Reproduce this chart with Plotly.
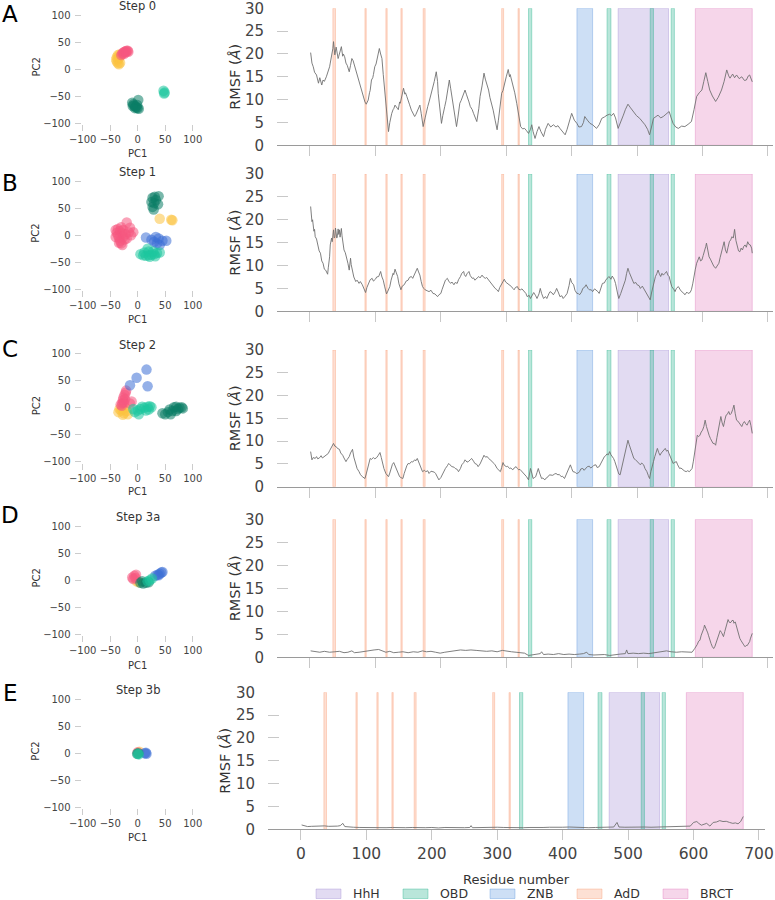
import plotly.graph_objects as go

FONT = "DejaVu Sans"
W, H = 775, 900

# ---------------- data ----------------
step_titles = ["Step 0", "Step 1", "Step 2", "Step 3a", "Step 3b"]
panel_letters = ["A", "B", "C", "D", "E"]
pc_ticks = [-100, -50, 0, 50, 100]
rmsf_ticks = [0, 5, 10, 15, 20, 25, 30]
residue_ticks = [0, 100, 200, 300, 400, 500, 600, 700]

# domain spans (residue start, residue end)
domain_names = ["HhH", "OBD", "ZNB", "AdD", "BRCT"]
HhH_spans = [(471, 548)]
OBD_spans = [(334, 339), (454, 460), (520, 525), (552, 557)]
ZNB_spans = [(408, 432)]
AdD_spans = [(35, 39), (84, 86), (116, 118), (139, 141), (173, 176), (293, 296), (318, 320)]
BRCT_spans = [(589, 676)]

# PCA projections per step (PC1, PC2), by cluster colour
s0_pink = [(-30, 26), (-28, 29), (-26, 31), (-24, 32), (-22, 33), (-20, 34), (-18, 34), (-17, 32), (-25, 28), (-21, 31)]
s0_yellow = [(-33, 27), (-36, 26), (-38, 22), (-39, 18), (-38, 14), (-36, 11), (-34, 9), (-32, 12), (-35, 19), (-33, 22)]
s0_blue = []
s0_dark = [(-10, -62), (-8, -65), (-6, -67), (-4, -69), (-2, -71), (0, -72), (2, -73), (-9, -68), (-5, -72), (-1, -66), (1, -57)]
s0_teal = [(47, -40), (48, -45), (49, -43)]

s1_pink = [(-40, 10), (-38, 5), (-36, 0), (-34, -5), (-32, -10), (-30, -15), (-28, -18), (-36, 12), (-32, 8), (-28, 4),
           (-26, -2), (-24, -8), (-40, -3), (-30, 15), (-26, 10), (-22, 2), (-20, -6), (-34, -14), (-20, 24), (-14, 14),
           (-8, 6), (-16, 6), (-12, 0)]
s1_yellow = [(40, 31), (61, 29), (63, 28)]
s1_blue = [(15, -4), (25, -8), (33, -3), (38, -6), (45, -10), (52, -10), (35, -15), (40, -18), (30, -12)]
s1_dark = [(27, 70), (31, 72), (38, 73), (25, 62), (30, 60), (37, 58), (27, 53), (29, 48), (33, 66)]
s1_teal = [(5, -35), (10, -37), (15, -38), (20, -37), (25, -36), (30, -35), (35, -33), (40, -32), (20, -30), (28, -30),
           (12, -32), (22, -40), (32, -39), (18, -25)]

s2_pink = [(-29, 4), (-28, 9), (-27, 14), (-26, 19), (-24, 24), (-22, 28), (-21, 32), (-25, 10), (-23, 16), (-31, 6),
           (-11, 12), (-14, 8)]
s2_yellow = [(-35, -8), (-30, -5), (-25, -10), (-20, -6), (-28, -2), (-22, 0), (-33, -2), (-18, -12), (-27, -13)]
s2_blue = [(-14, 42), (-2, 56), (16, 71), (18, 40)]
s2_dark = [(45, -10), (50, -12), (55, -8), (58, -3), (63, -6), (66, 1), (70, 2), (73, -2), (76, 0), (80, 1), (82, -1),
           (70, -6), (60, -12)]
s2_teal = [(-5, -8), (0, -5), (5, -2), (8, 2), (12, 0), (18, 2), (22, 3), (25, 1), (2, -12), (-8, -2), (15, -5), (20, -3)]

s3a_pink = [(-10, 5), (-6, 8), (-3, 10), (-8, 2), (-4, 4)]
s3a_yellow = [(-2, -2), (2, -4)]
s3a_blue = [(32, 8), (36, 10), (40, 12), (43, 14), (45, 15), (38, 9)]
s3a_dark = [(5, -5), (10, -6), (15, -5), (20, -4), (8, -2)]
s3a_teal = [(22, 0), (26, 3), (18, -2)]

s3b_pink = [(0, 2)]
s3b_yellow = [(3, 3)]
s3b_blue = [(13, 0), (15, 1), (16, -1)]
s3b_dark = [(-1, -1), (1, 0)]
s3b_teal = [(2, -2), (0, -1)]

# RMSF (Å) per residue, per step: (residue, rmsf)
rmsf_step0 = [(1,20.3),(3,18.0),(5,17.2),(7,16.0),(10,15.4),(12,14.2),(13,13.6),(15,14.8),(17,13.5),(18,13.2),(20,14.3),(22,14.0),(25,15.0),(27,15.8),(28,16.5),(30,17.2),(31,18.0),(33,19.5),(34,20.5),(35,21.2),(36,22.7),(37,20.5),(38,19.8),(40,21.5),(41,20.9),(43,19.0),(44,19.5),(46,20.8),(48,21.6),(50,19.5),(51,20.0),(53,19.4),(55,18.0),(57,17.5),(60,16.1),(62,17.5),(64,19.0),(66,18.5),(67,18.0),(70,16.0),(72,15.0),(74,14.3),(76,13.5),(78,12.5),(81,10.7),(84,9.5),(86,9.0),(89,9.9),(91,11.5),(92,12.0),(94,14.3),(96,14.8),(97,15.5),(99,17.2),(101,17.8),(102,18.5),(104,19.8),(106,21.2),(108,20.0),(110,19.0),(112,15.5),(114,12.0),(115,9.9),(117,7.0),(118,5.5),(120,3.0),(122,5.0),(124,6.5),(125,7.0),(127,7.8),(128,8.0),(130,8.8),(132,8.5),(134,8.0),(135,7.8),(137,9.5),(138,9.2),(141,11.0),(143,12.5),(145,11.2),(146,11.5),(148,10.7),(150,10.0),(152,9.0),(155,7.7),(158,7.0),(160,6.3),(162,6.8),(164,7.5),(166,8.2),(168,8.8),(170,7.0),(171,6.0),(173,4.1),(176,6.0),(178,7.7),(180,8.5),(182,9.5),(184,10.5),(186,11.8),(188,12.5),(190,14.0),(193,16.1),(195,14.0),(196,11.4),(198,8.5),(199,7.0),(201,4.8),(203,6.5),(204,7.0),(206,8.5),(208,9.8),(210,11.5),(213,14.3),(215,12.5),(216,11.5),(218,9.9),(220,8.0),(221,7.0),(224,4.1),(226,6.0),(227,7.0),(229,9.2),(231,9.8),(233,10.5),(235,11.0),(237,12.1),(239,11.2),(241,10.5),(243,9.5),(245,8.5),(248,7.8),(250,7.0),(252,6.2),(255,5.2),(258,8.0),(260,10.7),(263,13.0),(266,15.8),(268,14.5),(269,14.0),(271,13.2),(273,12.1),(275,10.5),(277,9.5),(280,7.7),(283,5.5),(286,3.4),(288,5.5),(290,7.5),(293,11.4),(295,12.0),(297,13.0),(300,15.0),(303,16.6),(305,15.0),(306,15.5),(309,14.0),(311,12.8),(313,11.5),(316,9.2),(319,6.5),(322,4.1),(325,3.6),(328,3.7),(331,3.2),(334,2.6),(337,3.5),(339,4.5),(341,3.0),(344,1.5),(347,3.0),(350,4.1),(353,3.0),(357,1.9),(360,3.5),(364,4.8),(368,4.0),(372,4.5),(376,4.0),(379,4.3),(382,3.7),(386,3.0),(390,2.3),(393,3.5),(396,5.0),(400,7.0),(404,5.5),(408,4.8),(411,4.0),(415,4.1),(418,5.0),(420,6.3),(424,5.5),(428,4.8),(432,4.5),(435,4.0),(438,3.7),(442,4.5),(446,5.9),(450,6.2),(454,6.6),(458,6.8),(461,6.5),(464,7.0),(467,6.0),(471,3.7),(475,5.0),(479,6.6),(482,7.8),(486,9.0),(490,8.2),(494,7.4),(499,6.5),(504,5.9),(508,5.2),(512,4.5),(516,3.5),(519,2.3),(522,4.0),(525,5.9),(529,6.3),(532,6.6),(536,6.0),(540,6.3),(544,6.8),(549,7.4),(552,6.0),(555,4.8),(559,4.0),(563,3.7),(568,4.2),(573,4.1),(578,4.6),(583,5.2),(587,7.8),(591,10.7),(595,11.5),(599,12.1),(602,14.0),(605,15.9),(608,14.0),(611,12.1),(615,10.8),(620,9.6),(624,10.5),(629,12.1),(633,14.0),(637,16.5),(640,15.2),(642,14.7),(646,15.6),(649,14.8),(652,15.4),(656,14.6),(660,15.0),(664,14.2),(667,14.3),(670,15.2),(672,15.4),(674,14.6),(676,13.9)]

rmsf_step1 = [(1,22.9),(2,20.5),(3,19.6),(4,20.0),(5,18.5),(6,17.5),(7,17.9),(8,16.3),(10,15.8),(12,14.5),(14,13.2),(16,12.7),(18,11.0),(20,10.5),(22,9.2),(24,9.0),(26,8.3),(27,8.1),(28,9.5),(30,11.9),(31,14.5),(33,16.0),(34,15.2),(35,17.6),(36,17.8),(37,16.0),(38,16.2),(39,18.2),(40,17.4),(41,16.0),(42,16.5),(43,18.0),(44,16.8),(45,17.8),(46,16.2),(47,17.5),(48,18.1),(49,16.5),(50,15.5),(51,14.2),(52,13.4),(54,12.8),(56,11.2),(58,10.5),(60,9.0),(61,10.5),(62,11.6),(63,10.2),(65,9.0),(67,7.5),(70,6.5),(72,6.8),(75,6.1),(77,6.5),(80,5.8),(82,5.0),(85,4.1),(87,5.2),(90,6.5),(92,6.9),(95,7.2),(97,6.6),(100,7.0),(102,7.5),(105,7.6),(106,8.1),(108,8.7),(110,7.5),(112,6.8),(114,5.5),(117,3.8),(119,4.4),(122,5.4),(124,6.8),(127,8.3),(128,8.0),(130,9.2),(132,8.4),(134,7.6),(136,6.0),(139,4.7),(141,5.5),(144,5.8),(147,6.6),(150,6.8),(152,7.4),(155,7.6),(157,7.2),(160,8.3),(162,8.6),(164,9.4),(166,8.6),(168,7.9),(170,6.5),(172,5.4),(174,5.0),(176,4.7),(179,4.5),(182,4.3),(185,4.6),(188,3.9),(191,3.8),(195,3.2),(197,3.6),(200,3.9),(202,4.8),(205,5.8),(207,6.8),(210,7.2),(212,6.6),(215,6.1),(217,6.4),(220,5.8),(222,6.3),(225,6.1),(227,6.9),(230,7.6),(232,8.3),(235,8.7),(236,8.0),(238,7.6),(240,8.2),(243,8.7),(245,7.8),(248,7.2),(250,7.3),(252,6.8),(255,7.2),(258,7.6),(260,7.3),(263,7.9),(265,7.5),(268,7.2),(270,7.4),(273,6.8),(275,6.5),(278,5.8),(280,5.6),(283,5.0),(285,4.8),(288,4.3),(290,5.2),(293,6.1),(295,6.6),(297,7.0),(299,6.4),(302,6.1),(305,5.6),(308,5.4),(310,5.0),(312,4.7),(314,5.2),(317,5.4),(319,4.8),(322,4.7),(324,4.9),(327,4.3),(330,3.9),(332,3.2),(335,3.5),(337,2.8),(340,3.5),(342,4.1),(345,3.4),(347,2.8),(350,3.8),(352,5.0),(354,3.9),(357,2.8),(360,3.2),(362,2.8),(365,3.8),(367,4.3),(370,4.0),(372,3.6),(375,4.3),(377,5.0),(380,4.0),(382,3.2),(385,3.4),(387,2.8),(390,3.3),(393,3.9),(396,5.6),(398,7.2),(400,6.3),(403,5.8),(405,4.6),(408,3.9),(410,3.9),(412,3.6),(415,4.2),(417,5.0),(420,5.3),(422,5.8),(425,5.0),(427,4.7),(430,4.7),(432,4.3),(435,4.9),(437,4.7),(440,4.3),(442,3.9),(445,5.2),(447,6.1),(450,6.2),(452,6.8),(455,7.3),(457,7.6),(460,7.0),(462,7.7),(465,7.0),(467,6.1),(470,4.0),(472,2.8),(475,3.9),(477,4.7),(480,6.0),(482,6.8),(484,8.3),(486,9.4),(488,8.5),(490,7.9),(493,6.9),(495,6.1),(498,6.3),(500,5.8),(503,5.6),(505,5.0),(508,5.5),(510,5.0),(513,4.2),(515,3.6),(518,3.0),(520,2.5),(522,4.0),(524,5.4),(526,6.8),(528,7.6),(530,8.2),(532,9.0),(534,8.2),(536,7.6),(538,8.3),(540,7.9),(542,8.2),(545,8.7),(547,7.9),(549,7.6),(551,6.4),(553,5.4),(556,4.8),(558,4.3),(560,5.0),(563,5.4),(566,4.7),(568,4.3),(571,4.0),(573,3.6),(576,4.2),(578,3.9),(581,4.1),(583,4.7),(585,6.0),(587,7.9),(589,9.2),(591,10.5),(593,11.5),(595,11.9),(597,11.0),(599,11.2),(601,12.2),(603,13.0),(605,14.2),(606,14.9),(608,13.2),(610,11.9),(612,11.4),(615,10.5),(617,9.9),(620,9.4),(622,9.8),(625,10.5),(627,11.8),(629,13.0),(631,14.0),(633,15.2),(635,13.4),(637,12.7),(639,14.0),(641,15.2),(643,15.6),(645,16.3),(647,16.0),(649,17.9),(651,15.5),(653,14.1),(655,13.2),(657,13.0),(659,13.8),(661,13.4),(663,14.2),(665,14.5),(667,14.0),(669,15.2),(671,14.6),(673,14.5),(675,13.8),(676,12.7)]

rmsf_step2 = [(1,7.7),(2,6.6),(3,5.9),(5,6.4),(8,6.2),(10,6.6),(12,6.1),(15,6.4),(17,6.8),(19,6.3),(22,6.7),(25,7.0),(28,7.3),(30,7.9),(33,8.8),(35,9.2),(36,9.5),(38,8.9),(40,8.8),(42,8.4),(45,8.2),(47,7.4),(50,6.9),(52,6.3),(55,5.5),(57,6.0),(60,6.6),(62,7.4),(65,8.2),(67,6.5),(70,4.8),(72,4.0),(75,3.3),(77,2.7),(80,2.2),(82,1.9),(84,1.8),(86,2.8),(88,4.0),(90,5.3),(92,6.2),(94,6.0),(97,6.4),(99,6.1),(102,6.4),(104,6.8),(107,7.5),(109,6.4),(111,5.1),(113,4.0),(116,2.9),(118,2.4),(120,2.2),(122,3.0),(124,4.0),(126,4.9),(128,5.3),(130,4.6),(132,4.0),(134,3.1),(137,2.2),(139,2.0),(142,1.8),(144,2.9),(146,4.0),(148,4.6),(150,5.1),(152,5.0),(155,5.5),(157,5.4),(160,5.9),(162,5.7),(164,6.2),(166,5.5),(168,4.4),(170,3.8),(172,3.3),(175,3.6),(177,3.3),(180,3.5),(182,2.9),(185,3.4),(187,3.3),(190,3.2),(192,2.9),(195,2.2),(197,1.5),(200,2.0),(202,2.6),(205,3.3),(207,4.0),(210,4.6),(212,5.1),(214,4.8),(217,4.4),(220,4.3),(222,4.0),(225,3.8),(227,3.3),(230,4.0),(232,4.8),(235,5.3),(237,5.9),(240,5.4),(242,5.5),(245,5.9),(247,6.2),(250,5.6),(252,5.1),(255,4.9),(257,4.4),(260,5.0),(262,5.7),(264,6.4),(266,6.9),(268,6.5),(271,6.6),(273,6.2),(276,5.9),(278,5.6),(281,5.1),(283,4.8),(286,4.0),(288,3.8),(291,3.3),(293,4.2),(295,5.3),(297,4.7),(300,4.4),(302,4.5),(305,4.0),(307,4.1),(310,3.7),(312,4.1),(315,4.4),(317,4.0),(319,3.7),(321,3.8),(324,3.3),(326,3.0),(329,2.6),(331,2.2),(334,1.5),(335,2.8),(337,4.0),(339,3.0),(341,1.8),(343,2.0),(345,2.2),(347,3.1),(349,4.0),(351,3.0),(354,1.8),(356,1.9),(359,1.5),(361,1.9),(364,2.2),(366,2.6),(369,2.6),(371,2.5),(374,2.8),(376,2.9),(379,2.6),(381,2.7),(384,2.2),(386,2.3),(389,1.8),(391,2.5),(394,3.3),(396,4.1),(398,4.8),(400,4.0),(402,3.3),(405,3.2),(407,2.9),(410,3.0),(412,3.3),(414,3.9),(417,4.0),(419,3.6),(422,4.0),(424,4.4),(427,4.5),(429,4.1),(432,4.4),(434,4.7),(437,4.8),(439,4.2),(442,4.4),(444,5.0),(446,5.5),(448,6.1),(450,6.6),(452,6.8),(454,7.2),(456,7.0),(458,7.7),(460,7.0),(462,6.6),(464,6.2),(466,5.5),(468,4.5),(470,3.3),(472,2.8),(474,2.6),(476,3.9),(478,5.1),(480,6.3),(482,7.3),(484,8.8),(486,10.2),(488,9.2),(490,8.4),(492,7.4),(495,6.2),(497,6.0),(500,5.5),(502,5.2),(505,4.8),(507,5.2),(510,4.8),(512,4.0),(515,3.3),(517,2.5),(519,1.8),(521,3.3),(523,4.8),(525,5.5),(527,6.6),(529,7.6),(531,8.4),(533,7.5),(535,6.9),(537,7.4),(539,7.7),(541,7.9),(543,8.4),(545,7.8),(547,8.0),(549,7.2),(551,6.6),(553,5.7),(555,5.1),(557,5.3),(560,5.5),(562,4.8),(565,4.0),(567,4.1),(570,3.7),(572,3.5),(575,3.3),(577,3.5),(580,3.3),(582,3.6),(584,4.0),(586,5.6),(588,7.7),(590,9.6),(592,11.3),(594,11.0),(596,11.3),(598,12.0),(600,12.4),(602,13.2),(604,14.6),(606,13.2),(608,12.1),(610,11.3),(612,10.6),(614,10.0),(616,9.5),(618,9.5),(620,9.1),(622,10.8),(624,12.4),(626,13.8),(628,15.4),(630,14.0),(632,13.2),(634,14.6),(636,15.7),(638,15.9),(640,16.5),(642,15.8),(644,16.1),(646,16.9),(648,17.9),(650,16.0),(652,14.6),(654,14.4),(656,13.9),(658,13.4),(660,13.2),(662,13.9),(664,14.3),(666,13.8),(668,13.5),(670,14.1),(672,14.6),(674,13.4),(676,11.7)]

rmsf_step3a = [(1,1.4),(8,1.2),(15,1.1),(22,1.3),(30,1.1),(38,1.2),(45,1.3),(52,1.0),(58,1.1),(64,1.4),(68,1.0),(75,1.1),(82,1.3),(90,1.4),(98,1.6),(105,1.7),(110,1.5),(116,1.1),(122,1.3),(128,1.0),(135,1.1),(142,1.2),(150,1.0),(158,1.2),(165,1.1),(172,1.4),(178,1.2),(185,1.3),(192,1.1),(199,0.9),(206,1.1),(214,1.3),(222,1.5),(230,1.6),(238,1.5),(246,1.6),(254,1.5),(262,1.4),(270,1.3),(278,1.4),(286,1.2),(294,1.5),(300,1.3),(308,1.2),(315,1.1),(322,1.0),(328,0.9),(334,0.4),(340,0.5),(346,0.6),(352,0.8),(354,1.2),(357,0.6),(364,0.7),(372,0.6),(380,0.8),(388,0.6),(396,0.7),(404,0.6),(412,0.7),(418,0.8),(423,1.1),(426,0.6),(434,0.5),(442,0.5),(450,0.6),(458,0.4),(466,0.6),(474,0.7),(482,0.8),(484,1.6),(486,0.8),(494,0.9),(502,0.8),(510,0.9),(518,0.8),(526,1.0),(534,1.2),(540,1.3),(545,1.4),(552,1.2),(560,1.1),(568,1.2),(576,1.1),(584,1.1),(588,1.9),(590,2.3),(592,2.8),(594,3.5),(596,3.7),(598,4.8),(600,5.5),(602,6.3),(603,7.0),(605,6.4),(606,6.0),(608,5.3),(609,4.8),(611,3.6),(613,3.0),(615,2.3),(617,1.9),(619,2.4),(620,2.8),(622,3.7),(624,4.6),(625,5.0),(627,5.8),(629,5.4),(630,5.0),(632,4.5),(634,5.6),(636,6.6),(638,7.4),(639,8.2),(641,7.6),(642,7.5),(644,7.7),(645,8.0),(647,8.0),(648,7.4),(650,7.7),(652,6.6),(653,6.0),(655,5.1),(657,4.1),(659,3.6),(661,3.0),(663,2.7),(665,2.3),(667,2.6),(668,2.5),(670,3.0),(672,3.4),(673,4.0),(675,4.6),(676,5.2)]

rmsf_step3b = [(1,0.95),(5,0.8),(10,0.6),(16,0.65),(22,0.7),(30,0.7),(36,0.75),(42,0.65),(50,0.6),(56,0.7),(60,0.8),(64,1.3),(67,0.6),(72,0.5),(80,0.45),(90,0.4),(100,0.35),(110,0.4),(120,0.3),(130,0.35),(140,0.4),(150,0.3),(160,0.35),(170,0.4),(180,0.3),(190,0.35),(200,0.4),(210,0.3),(220,0.4),(230,0.35),(240,0.4),(250,0.35),(258,0.4),(260,0.8),(262,0.35),(270,0.4),(280,0.35),(290,0.4),(300,0.45),(310,0.4),(320,0.35),(330,0.3),(340,0.35),(350,0.4),(360,0.35),(370,0.4),(380,0.45),(390,0.4),(400,0.45),(410,0.5),(420,0.4),(430,0.45),(440,0.35),(450,0.4),(460,0.4),(470,0.45),(478,0.5),(483,1.5),(486,0.5),(495,0.45),(505,0.5),(515,0.45),(525,0.5),(535,0.45),(545,0.5),(555,0.45),(565,0.5),(575,0.5),(585,0.55),(590,0.7),(595,0.7),(600,1.5),(605,1.7),(608,1.3),(612,0.9),(616,1.1),(620,1.3),(625,0.7),(630,1.5),(635,1.6),(640,1.9),(645,1.7),(650,1.75),(655,1.5),(660,1.3),(664,1.4),(668,1.2),(672,1.7),(676,2.8)]

# ---------------- styling / geometry ----------------
cluster_colors = {"pink": "#F5587F", "yellow": "#FCC23F", "blue": "#3C70D6", "dark": "#0B7D66", "teal": "#1DC79F"}
domain_fill = {
    "HhH": "rgba(139,111,203,0.25)",
    "OBD": "rgba(22,172,132,0.30)",
    "ZNB": "rgba(55,127,215,0.25)",
    "AdD": "rgba(247,131,83,0.25)",
    "BRCT": "rgba(219,91,171,0.25)",
}
domain_edge = {
    "HhH": "rgba(139,111,203,0.30)",
    "OBD": "rgba(22,172,132,0.35)",
    "ZNB": "rgba(55,127,215,0.30)",
    "AdD": "rgba(247,131,83,0.30)",
    "BRCT": "rgba(219,91,171,0.30)",
}
domain_spans = {"HhH": HhH_spans, "OBD": OBD_spans, "ZNB": ZNB_spans, "AdD": AdD_spans, "BRCT": BRCT_spans}

def fx(p):
    return p / W

def fy(p):
    return 1 - p / H

sc_x_px = (81.6, 198.2)
sc_y_px = [(9.6, 124.4), (176.3, 290.1), (348.6, 462.8), (520.6, 635.4), (693.9, 808.4)]
rm_x_px = [(277, 773)] * 4 + [(268, 765)]
rm_y_px = [(8.3, 145.3), (174, 311.3), (350, 486.7), (519.3, 657.3), (692.3, 829.3)]
rm_x_range = [[-50.4, 707.7]] * 4 + [[-50.4, 709.2]]

letter_y = [14, 183, 349, 515, 693]
title_y = [6, 172, 345, 517, 690]
pc1_y = [153, 319, 492, 665, 837]
rmsf_label_x = [235, 235, 235, 235, 225]

clusters = [
    dict(pink=s0_pink, yellow=s0_yellow, blue=s0_blue, dark=s0_dark, teal=s0_teal),
    dict(pink=s1_pink, yellow=s1_yellow, blue=s1_blue, dark=s1_dark, teal=s1_teal),
    dict(pink=s2_pink, yellow=s2_yellow, blue=s2_blue, dark=s2_dark, teal=s2_teal),
    dict(pink=s3a_pink, yellow=s3a_yellow, blue=s3a_blue, dark=s3a_dark, teal=s3a_teal),
    dict(pink=s3b_pink, yellow=s3b_yellow, blue=s3b_blue, dark=s3b_dark, teal=s3b_teal),
]
rmsf_series = [rmsf_step0, rmsf_step1, rmsf_step2, rmsf_step3a, rmsf_step3b]

fig = go.Figure()
layout = dict(
    width=W, height=H, autosize=False,
    margin=dict(l=0, r=0, t=0, b=0, autoexpand=False),
    paper_bgcolor="white", plot_bgcolor="white",
    showlegend=False,
    font=dict(family=FONT, color="#333333"),
)
shapes = []
annotations = []

for i in range(5):
    sa = 2 * i + 1
    ra = 2 * i + 2
    sx, sy = f"x{sa}", f"y{sa}"
    rx, ry = f"x{ra}", f"y{ra}"

    # --- PCA scatter ---
    for key in ["yellow", "pink", "blue", "dark", "teal"]:
        pts = clusters[i][key]
        if not pts:
            continue
        fig.add_trace(go.Scatter(
            x=[p[0] for p in pts], y=[p[1] for p in pts], mode="markers",
            marker=dict(size=10.5, color=cluster_colors[key], opacity=0.55, line=dict(width=0)),
            xaxis=sx, yaxis=sy, hoverinfo="skip"))

    top, bot = sc_y_px[i]
    layout[f"xaxis{sa}"] = dict(
        domain=[fx(sc_x_px[0]), fx(sc_x_px[1])], anchor=sy, range=[-102, 110],
        tickmode="array", tickvals=pc_ticks, ticks="outside", ticklen=6, tickcolor="#cccccc",
        showline=False, showgrid=False, zeroline=False, ticklabeloverflow="allow",
        tickfont=dict(size=10, color="#444444", family=FONT))
    layout[f"yaxis{sa}"] = dict(
        domain=[fy(bot), fy(top)], anchor=sx, range=[-102, 110],
        tickmode="array", tickvals=pc_ticks, ticks="outside", ticklen=6, tickcolor="#cccccc",
        showline=False, showgrid=False, zeroline=False, ticklabelstandoff=2, ticklabeloverflow="allow",
        tickfont=dict(size=10, color="#444444", family=FONT))

    # --- RMSF line ---
    series = rmsf_series[i]
    fig.add_trace(go.Scatter(
        x=[p[0] for p in series], y=[p[1] for p in series], mode="lines",
        line=dict(color="#707070", width=0.9), xaxis=rx, yaxis=ry, hoverinfo="skip"))

    rtop, rbot = rm_y_px[i]
    layout[f"xaxis{ra}"] = dict(
        domain=[fx(rm_x_px[i][0]), fx(rm_x_px[i][1])], anchor=ry, range=rm_x_range[i],
        tickmode="array", tickvals=residue_ticks, ticks="outside", ticklen=10, tickcolor="#c8c8c8",
        showline=True, linecolor="#9a9a9a", linewidth=1, showgrid=False, zeroline=False,
        ticklabeloverflow="allow",
        showticklabels=(i == 4), tickfont=dict(size=15.5, color="#444444", family=FONT))
    layout[f"yaxis{ra}"] = dict(
        domain=[fy(rbot), fy(rtop)], anchor=rx, range=[0, 30],
        tickmode="array", tickvals=rmsf_ticks, ticks="inside", ticklen=11, tickcolor="#c8c8c8",
        showline=False, showgrid=False, zeroline=False, ticklabelstandoff=12, ticklabeloverflow="allow",
        tickfont=dict(size=15, color="#444444", family=FONT))

    # domain shading
    for name in domain_names:
        for (a, b) in domain_spans[name]:
            shapes.append(dict(
                type="rect", xref=rx, yref=ry, x0=a, x1=b, y0=0, y1=30,
                fillcolor=domain_fill[name], line=dict(color=domain_edge[name], width=1),
                layer="below"))

    # labels
    cx = 137.7
    annotations.append(dict(text=panel_letters[i], x=fx(10), y=fy(letter_y[i]), xref="paper", yref="paper",
                             xanchor="center", yanchor="middle", showarrow=False,
                             font=dict(size=23, color="black", family=FONT)))
    annotations.append(dict(text=step_titles[i], x=fx(cx), y=fy(title_y[i]), xref="paper", yref="paper",
                             xanchor="center", yanchor="middle", showarrow=False,
                             font=dict(size=11.5, color="#333333", family=FONT)))
    annotations.append(dict(text="PC1", x=fx(cx), y=fy(pc1_y[i]), xref="paper", yref="paper",
                             xanchor="center", yanchor="middle", showarrow=False,
                             font=dict(size=10, color="#333333", family=FONT)))
    pc2_mid = (top + 2 + bot - 1) / 2
    annotations.append(dict(text="PC2", x=fx(36), y=fy(pc2_mid), xref="paper", yref="paper",
                             xanchor="center", yanchor="middle", showarrow=False, textangle=-90,
                             font=dict(size=10, color="#333333", family=FONT)))
    annotations.append(dict(text="RMSF (<i>Å</i>)", x=fx(rmsf_label_x[i]), y=fy((rtop + rbot) / 2),
                             xref="paper", yref="paper", xanchor="center", yanchor="middle",
                             showarrow=False, textangle=-90,
                             font=dict(size=14.5, color="#333333", family=FONT)))

annotations.append(dict(text="Residue number", x=fx(516), y=fy(879), xref="paper", yref="paper",
                         xanchor="center", yanchor="middle", showarrow=False,
                         font=dict(size=13, color="#333333", family=FONT)))

# legend (manual patches)
legend_patch_x = [316, 403, 490, 577, 663]
for name, px0 in zip(domain_names, legend_patch_x):
    shapes.append(dict(type="rect", xref="paper", yref="paper",
                       x0=fx(px0), x1=fx(px0 + 25), y0=fy(898.5), y1=fy(889),
                       fillcolor=domain_fill[name], line=dict(color=domain_edge[name], width=1)))
    annotations.append(dict(text=name, x=fx(px0 + 35), y=fy(893.5), xref="paper", yref="paper",
                             xanchor="left", yanchor="middle", showarrow=False,
                             font=dict(size=12.5, color="#333333", family=FONT)))

layout["shapes"] = shapes
layout["annotations"] = annotations
fig.update_layout(**layout)
fig.write_html("out.html", config={"displayModeBar": False},
               post_script="document.body.style.margin='0px';document.body.style.overflow='hidden';")
